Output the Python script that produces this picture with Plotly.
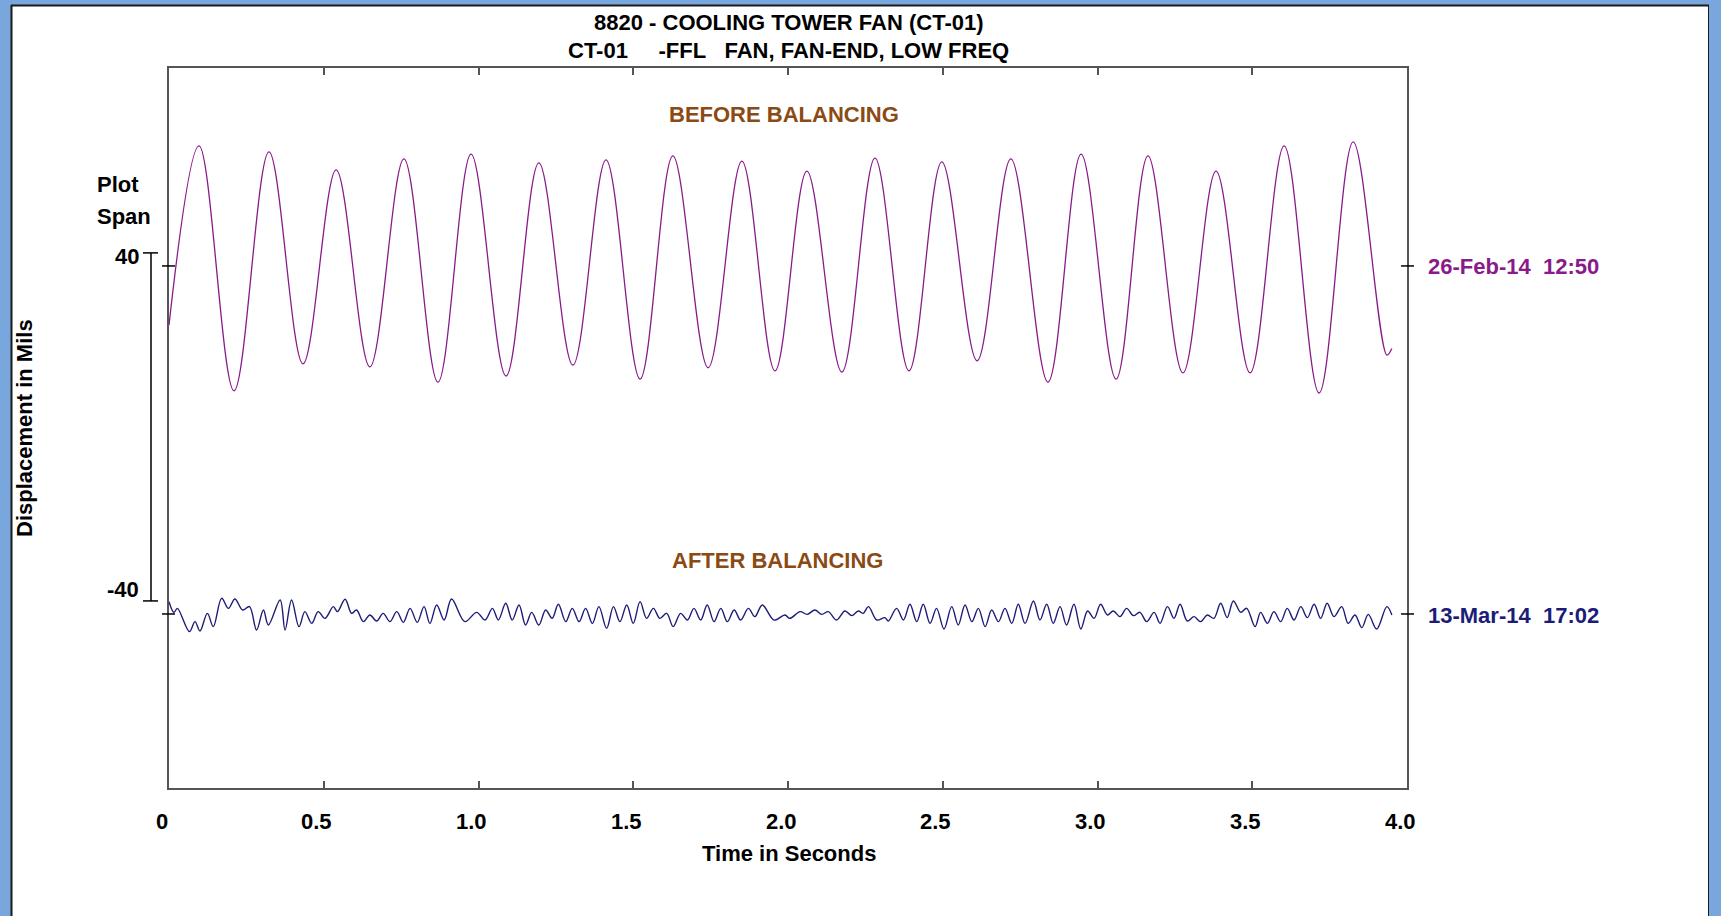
import plotly.graph_objects as go

# ---------------- data ----------------
# BEFORE BALANCING waveform: extrema, time (s) and displacement (mils)
before_t = [0.000, 0.097, 0.210, 0.323, 0.433, 0.540, 0.649, 0.759, 0.869, 0.976,
            1.089, 1.195, 1.305, 1.412, 1.522, 1.628, 1.742, 1.851, 1.958, 2.061,
            2.174, 2.281, 2.391, 2.497, 2.611, 2.720, 2.840, 2.947, 3.060, 3.163,
            3.276, 3.383, 3.493, 3.603, 3.716, 3.826, 3.935, 3.951]
before_d = [-13.6, 27.6, -28.7, 26.2, -22.5, 22.1, -23.2, 24.6, -26.7, 25.7,
            -25.3, 23.7, -22.8, 24.4, -26.0, 25.3, -23.4, 24.1, -24.1, 21.8,
            -24.4, 24.8, -24.1, 23.9, -21.8, 24.6, -26.7, 25.7, -26.0, 25.3,
            -24.6, 21.8, -24.6, 27.6, -29.2, 28.5, -20.5, -19.0]

# AFTER BALANCING waveform: extrema, time (s) and displacement (mils)
after_t = [0.000, 0.016, 0.027, 0.066, 0.084, 0.100, 0.124, 0.143, 0.170, 0.192,
           0.213, 0.238, 0.260, 0.283, 0.305, 0.321, 0.359, 0.375, 0.396, 0.420,
           0.439, 0.461, 0.482, 0.504, 0.531, 0.544, 0.569, 0.590, 0.606, 0.628,
           0.649, 0.671, 0.692, 0.714, 0.736, 0.757, 0.779, 0.802, 0.824, 0.843,
           0.865, 0.889, 0.913,
           0.956, 0.994, 1.021, 1.045, 1.064, 1.088, 1.109, 1.131, 1.152, 1.172,
           1.195, 1.217, 1.238, 1.258, 1.282, 1.303, 1.325, 1.346, 1.368, 1.389,
           1.414, 1.436, 1.457, 1.479, 1.500, 1.522, 1.543, 1.565, 1.586, 1.608,
           1.629, 1.653, 1.675, 1.696, 1.718, 1.739, 1.761, 1.783, 1.804, 1.826,
           1.847, 1.872, 1.893, 1.917,
           1.955, 1.990, 2.006, 2.039, 2.062, 2.087, 2.109, 2.130, 2.157, 2.184,
           2.206, 2.227, 2.243, 2.260, 2.287, 2.313, 2.324, 2.351, 2.373, 2.394,
           2.416, 2.437, 2.459, 2.480, 2.504, 2.529, 2.550, 2.572, 2.594, 2.615,
           2.637, 2.658, 2.680, 2.701, 2.723, 2.744, 2.766, 2.793, 2.814, 2.836,
           2.857, 2.879, 2.900, 2.924, 2.946,
           2.968, 2.989, 3.010, 3.032, 3.051, 3.073, 3.094, 3.116, 3.137, 3.159,
           3.183, 3.202, 3.226, 3.247, 3.267, 3.290, 3.312, 3.333, 3.355, 3.376,
           3.398, 3.419, 3.439, 3.463, 3.482, 3.509, 3.527, 3.549, 3.570, 3.592,
           3.613, 3.635, 3.657, 3.678, 3.700, 3.721, 3.742, 3.764, 3.789, 3.810,
           3.832, 3.854, 3.875, 3.902, 3.935, 3.951]
after_d = [2.84, 0.38, 1.30, -4.06, -1.76, -3.91, 0.15, -2.91, 3.60, 1.30,
           3.45, 0.92, 1.69, -3.68, 0.92, -2.53, 3.22, -3.68, 3.22, -2.91,
           0.54, -2.15, 0.54, -1.00, 1.69, 0.54, 3.37, 0.15, 0.92, -1.76,
           -0.23, -1.61, 0.15, -1.76, 0.54, -1.92, 1.30, -1.92, 1.69, -2.15,
           2.07, -1.38, 3.45,
           -1.76, 0.38, -1.38, 1.30, -1.38, 2.45, -1.38, 2.07, -2.53, 0.38,
           -2.53, 0.92, -1.00, 2.22, -1.76, 1.30, -1.76, 1.30, -2.15, 1.69,
           -3.30, 1.69, -1.76, 2.07, -2.15, 2.84, -1.00, 1.30, -1.00, 0.15,
           -2.91, 0.15, -1.38, 1.30, -1.38, 2.07, -1.76, 1.30, -1.76, 0.92,
           -1.38, 1.30, -0.61, 2.07,
           -1.40, -0.23, -1.00, 0.54, -0.08, 0.92, -0.08, 0.54, -1.38, 0.69,
           -0.38, 0.69, 0.15, 1.69, -1.38, -0.84, -1.61, 1.30, -1.38, 2.22,
           -1.76, 2.22, -2.15, 1.30, -3.45, 1.69, -2.53, 2.07, -1.76, 1.30,
           -2.91, 0.92, -1.76, 1.30, -2.15, 2.22, -2.15, 2.99, -1.38, 2.22,
           -2.15, 1.69, -2.53, 2.22, -3.45,
           0.70, -1.00, 2.22, -0.23, 0.69, -0.61, 1.30, -0.38, 0.38, -1.76,
           0.38, -2.15, 1.69, -1.00, 2.22, -1.61, -0.61, -1.76, -0.23, -1.00,
           2.45, -0.84, 2.99, 0.38, 1.30, -2.91, 0.38, -2.15, 0.54, -1.76,
           1.30, -1.38, 1.69, -0.84, 2.22, -1.00, 2.45, -0.61, 1.69, -2.15,
           -0.23, -3.14, -0.08, -3.45, 1.69, -0.23]

plot_span = 80          # mils, "Plot Span"
before_offset = 80      # vertical placement of the before trace (mils)
after_offset = 0        # vertical placement of the after trace (mils)
scale_bar = [3, 83]     # span bar bottom / top (mils)
scale_labels = ["-40", "40"]

x_tick_vals = [0, 0.5, 1.0, 1.5, 2.0, 2.5, 3.0, 3.5, 4.0]
x_tick_text = ["0", "0.5", "1.0", "1.5", "2.0", "2.5", "3.0", "3.5", "4.0"]

before_label = "26-Feb-14  12:50"
after_label = "13-Mar-14  17:02"

# ---------------- styling ----------------
FONT = "Liberation Sans, Arial, Helvetica, sans-serif"
PURPLE = "#8a1a8a"
NAVY = "#1c1c78"
BROWN = "#8b4a14"
AXIS = "#555555"
BLUE = "#79a7dd"
FS = 22

W, H = 1721, 916
L, R, T, B = 169, 314, 68, 128
PW, PH = W - L - R, H - T - B


def px(xpix):
    return (xpix - L) / PW


def py(ypix):
    return (H - B - ypix) / PH


fig = go.Figure()
fig.add_trace(go.Scatter(
    x=before_t, y=[v + before_offset for v in before_d], mode="lines",
    line=dict(color=PURPLE, width=1.3, shape="spline", smoothing=1.0),
    hoverinfo="skip", showlegend=False))
fig.add_trace(go.Scatter(
    x=after_t, y=[v + after_offset for v in after_d], mode="lines",
    line=dict(color=NAVY, width=1.4, shape="spline", smoothing=1.0),
    hoverinfo="skip", showlegend=False))

shapes = []
# window frame (blue border)
shapes.append(dict(type="rect", xref="paper", yref="paper", x0=px(0), x1=px(11),
                   y0=py(H), y1=py(0), fillcolor=BLUE, line=dict(width=0), layer="below"))
shapes.append(dict(type="rect", xref="paper", yref="paper", x0=px(0), x1=px(W),
                   y0=py(5), y1=py(0), fillcolor=BLUE, line=dict(width=0), layer="below"))
shapes.append(dict(type="rect", xref="paper", yref="paper", x0=px(1709), x1=px(W),
                   y0=py(H), y1=py(0), fillcolor=BLUE, line=dict(width=0), layer="below"))
shapes.append(dict(type="line", xref="paper", yref="paper", x0=px(11.5), x1=px(11.5),
                   y0=py(H), y1=py(5), line=dict(color="#1b1b1b", width=2)))
shapes.append(dict(type="line", xref="paper", yref="paper", x0=px(11), x1=px(1709),
                   y0=py(5.5), y1=py(5.5), line=dict(color="#1b1b1b", width=2)))
shapes.append(dict(type="line", xref="paper", yref="paper", x0=px(1708.5), x1=px(1708.5),
                   y0=py(H), y1=py(5), line=dict(color="#1b1b1b", width=1)))

# plot span scale bar
shapes.append(dict(type="line", xref="paper", yref="y", x0=px(151), x1=px(151),
                   y0=scale_bar[0], y1=scale_bar[1], line=dict(color="black", width=1.5)))
for yv in scale_bar:
    shapes.append(dict(type="line", xref="paper", yref="y", x0=px(143), x1=px(158),
                       y0=yv, y1=yv, line=dict(color="black", width=1.5)))
# baseline ticks crossing the left and right axes
for yv in (before_offset, after_offset):
    shapes.append(dict(type="line", xref="paper", yref="y", x0=px(162), x1=px(175),
                       y0=yv, y1=yv, line=dict(color="black", width=1.5)))
    shapes.append(dict(type="line", xref="paper", yref="y", x0=px(1401), x1=px(1414),
                       y0=yv, y1=yv, line=dict(color="black", width=1.5)))

ann = []


def text(x, y, s, size=FS, color="black", xanchor="center", yanchor="middle",
         xref="paper", yref="paper", textangle=0, xshift=0, yshift=0):
    ann.append(dict(x=x, y=y, xref=xref, yref=yref, text="<b>" + s + "</b>", showarrow=False,
                    font=dict(family=FONT, size=size, color=color), xanchor=xanchor,
                    yanchor=yanchor, textangle=textangle, xshift=xshift, yshift=yshift))


text(px(789), py(22), "8820 - COOLING TOWER FAN (CT-01)")
text(px(788), py(50), "CT-01&nbsp;&nbsp;&nbsp;&nbsp;&nbsp;-FFL&nbsp;&nbsp;&nbsp;FAN, FAN-END, LOW FREQ")
text(px(784), py(114), "BEFORE BALANCING", color=BROWN)
text(px(777), py(560), "AFTER BALANCING", color=BROWN)
text(px(95), py(184), "Plot", xanchor="left")
text(px(95), py(216), "Span", xanchor="left")
text(px(141), scale_bar[1], scale_labels[1], xanchor="right", yref="y", yshift=-4)
text(px(141), scale_bar[0], scale_labels[0], xanchor="right", yref="y", yshift=11)
text(px(1426), before_offset, before_label, color=PURPLE, xanchor="left", yref="y", yshift=-1)
text(px(1426), after_offset, after_label, color=NAVY, xanchor="left", yref="y", yshift=-2)
text(px(24), py(428), "Displacement in Mils", textangle=-90)
text(px(789), py(854), "Time in Seconds")
for v, s in zip(x_tick_vals, x_tick_text):
    text(v, py(821), s, xref="x", xshift=-7)

fig.update_layout(
    width=W, height=H, autosize=False,
    margin=dict(l=L, r=R, t=T, b=B, pad=0),
    paper_bgcolor="white", plot_bgcolor="white",
    xaxis=dict(range=[0, 4], showline=True, linecolor=AXIS, linewidth=1.5, mirror="ticks",
               ticks="inside", ticklen=7, tickwidth=1.5, tickcolor=AXIS,
               tickvals=x_tick_vals[1:-1], showticklabels=False,
               showgrid=False, zeroline=False, fixedrange=True),
    yaxis=dict(range=[-40, 125.5], showline=True, linecolor=AXIS, linewidth=1.5, mirror=True,
               ticks="", showticklabels=False, showgrid=False, zeroline=False, fixedrange=True),
    shapes=shapes, annotations=ann,
)

fig.write_html("out.html", config={"displayModeBar": False})
